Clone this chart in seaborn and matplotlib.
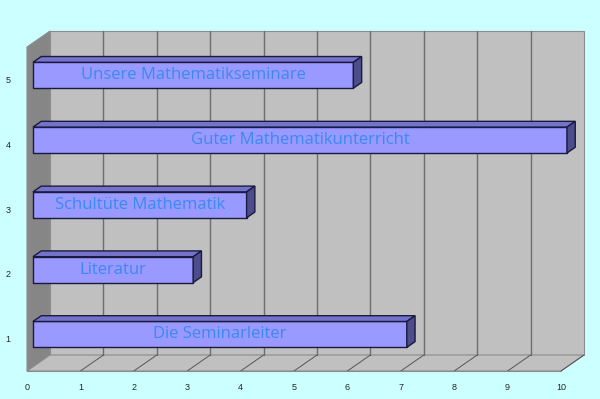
import matplotlib
matplotlib.use("Agg")
import matplotlib.pyplot as plt
import seaborn as sns
import numpy as np
import pandas as pd
from matplotlib.patches import Polygon, Rectangle

# ---- data ----
positions = [1, 2, 3, 4, 5]
values = [7, 3, 4, 10, 6]
labels = ["Die Seminarleiter", "Literatur", "Schultüte Mathematik",
          "Guter Mathematikunterricht", "Unsere Mathematikseminare"]
x_ticks = list(range(0, 11))
y_ticks = [1, 2, 3, 4, 5]

sns.set_style("white")
plt.rcParams['font.family'] = ['Liberation Sans', 'DejaVu Sans']

fig = plt.figure(figsize=(6.0, 3.99), dpi=100)
fig.patch.set_facecolor("#ccffff")
ax = fig.add_axes([27/600, (399-371)/399, 534/600, 324/399])
ax.set_facecolor("none")

XMIN, XMAX = 0, 10
YMIN, YMAX = 0.5, 5.5

# depth vector in data units
DX = 23 / 53.4
DY = 16 / 64.8

wall_kw = dict(clip_on=False, zorder=0.5, linewidth=0.8)
# back wall
ax.add_patch(Polygon([(XMIN+DX, YMIN+DY), (XMAX+DX, YMIN+DY), (XMAX+DX, YMAX+DY), (XMIN+DX, YMAX+DY)],
                     facecolor="#c0c0c0", edgecolor="#8c8c8c", **wall_kw))
# left wall
ax.add_patch(Polygon([(XMIN, YMIN), (XMIN+DX, YMIN+DY), (XMIN+DX, YMAX+DY), (XMIN, YMAX)],
                     facecolor="#868686", edgecolor="#8c8c8c", **wall_kw))
# floor
ax.add_patch(Polygon([(XMIN, YMIN), (XMAX, YMIN), (XMAX+DX, YMIN+DY), (XMIN+DX, YMIN+DY)],
                     facecolor="#c0c0c0", edgecolor="#8c8c8c", **wall_kw))
# gridlines on back wall and floor
for t in x_ticks[1:-1]:
    ax.plot([t+DX, t+DX], [YMIN+DY, YMAX+DY], color="#6e6e6e", lw=1.0, clip_on=False, zorder=0.6)
for t in x_ticks[1:]:
    ax.plot([t, t+DX], [YMIN, YMIN+DY], color="#555555", lw=0.7, clip_on=False, zorder=0.6)

# ---- bars ----
df = pd.DataFrame({"pos": positions, "val": values})
sns.barplot(data=df, x="val", y="pos", orient="y", native_scale=True, width=0.4,
            color="#9999ff", saturation=1, edgecolor="#1a1a40", linewidth=1.0, ax=ax, zorder=2)
ax.set_xlim(XMIN, XMAX)
ax.set_ylim(YMIN, YMAX)

F = 0.26   # front position of bars in depth
B = 0.36   # bar depth

bars = [p for p in ax.patches if isinstance(p, Rectangle)]
for p in bars:
    x0, y0, w, h = p.get_x(), p.get_y(), p.get_width(), p.get_height()
    x0 += F * DX
    y0 += F * DY
    p.set_x(x0)
    p.set_y(y0)
    p.set_clip_on(False)
    bx, by = B * DX, B * DY
    top = Polygon([(x0, y0+h), (x0+w, y0+h), (x0+w+bx, y0+h+by), (x0+bx, y0+h+by)],
                  facecolor="#7373cc", edgecolor="#1a1a40", lw=1.0, zorder=2, clip_on=False)
    side = Polygon([(x0+w, y0), (x0+w, y0+h), (x0+w+bx, y0+h+by), (x0+w+bx, y0+by)],
                   facecolor="#4d4d8c", edgecolor="#1a1a40", lw=1.0, zorder=2, clip_on=False)
    ax.add_patch(top)
    ax.add_patch(side)

for pos, val, lab in zip(positions, values, labels):
    cx = F * DX + val / 2
    cy = pos + F * DY
    ax.text(cx, cy, lab, ha="center", va="center", color="#3a8af2",
            fontsize=12, family=["Open Sans", "DejaVu Sans"], zorder=3)

# ---- axes ----
for s in ax.spines.values():
    s.set_visible(False)
ax.set_xticks(x_ticks)
ax.set_xticklabels([str(t) for t in x_ticks], fontsize=6.5)
ax.set_yticks(y_ticks)
ax.set_yticklabels([str(t) for t in y_ticks], fontsize=6.5)
ax.set_yticks(np.arange(0.5, 5.6, 1.0), minor=True)
ax.tick_params(axis="y", which="major", length=0, pad=12)
ax.tick_params(axis="y", which="minor", length=4, color="#808080", direction="out")
ax.tick_params(axis="x", which="major", length=4, color="#808080", direction="out", pad=5)
ax.set_xlabel("")
ax.set_ylabel("")
# front axis lines
ax.plot([XMIN, XMAX], [YMIN, YMIN], color="#8c8c8c", lw=0.8, clip_on=False, zorder=0.7)
ax.plot([XMIN, XMIN], [YMIN, YMAX], color="#8c8c8c", lw=0.8, clip_on=False, zorder=0.7)

fig.savefig("out.png", dpi=100, facecolor=fig.get_facecolor())
